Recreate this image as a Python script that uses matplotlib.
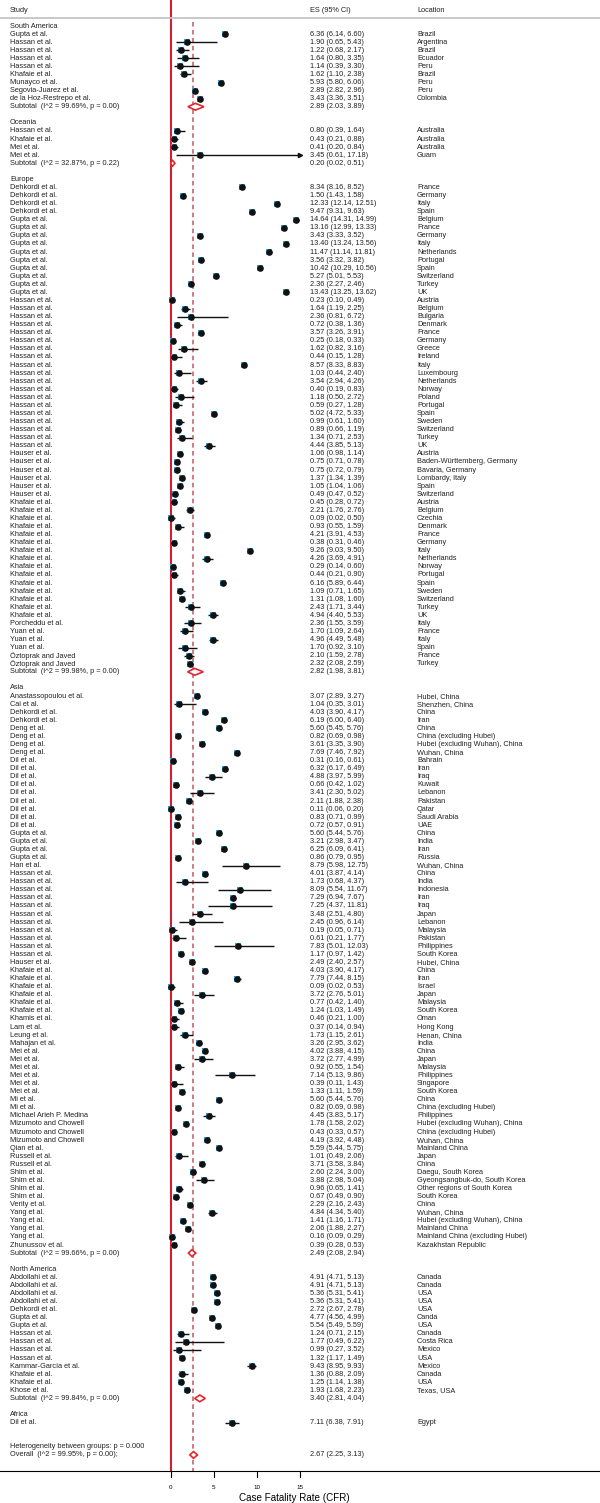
import matplotlib
matplotlib.use("Agg")
import matplotlib.pyplot as plt
from matplotlib.patches import Polygon

plt.rcParams['font.family'] = ['Liberation Sans', 'DejaVu Sans']

# ---------------- data ----------------
sa_study = ["Gupta et al.", "Hassan et al.", "Hassan et al.", "Hassan et al.", "Hassan et al.",
            "Khafaie et al.", "Munayco et al.", "Segovia-Juarez et al.", "de la Hoz-Restrepo et al."]
sa_es = [6.36, 1.90, 1.22, 1.64, 1.14, 1.62, 5.93, 2.89, 3.43]
sa_lo = [6.14, 0.65, 0.68, 0.80, 0.39, 1.10, 5.80, 2.82, 3.36]
sa_hi = [6.60, 5.43, 2.17, 3.35, 3.30, 2.38, 6.06, 2.96, 3.51]
sa_loc = ["Brazil", "Argentina", "Brazil", "Ecuador", "Peru", "Brazil", "Peru", "Peru", "Colombia"]

oc_study = ["Hassan et al.", "Khafaie et al.", "Mei et al.", "Mei et al."]
oc_es = [0.80, 0.43, 0.41, 3.45]
oc_lo = [0.39, 0.21, 0.20, 0.61]
oc_hi = [1.64, 0.88, 0.84, 17.18]
oc_loc = ["Australia", "Australia", "Australia", "Guam"]

eu_study = (["Dehkordi et al."] * 4 + ["Gupta et al."] * 10 + ["Hassan et al."] * 19
            + ["Hauser et al."] * 6 + ["Khafaie et al."] * 15 + ["Porcheddu et al."]
            + ["Yuan et al."] * 3 + ["Öztoprak and Javed"] * 2)
eu_es = [8.34, 1.50, 12.33, 9.47,
         14.64, 13.16, 3.43, 13.40, 11.47, 3.56, 10.42, 5.27, 2.36, 13.43,
         0.23, 1.64, 2.36, 0.72, 3.57, 0.25, 1.62, 0.44, 8.57, 1.03, 3.54, 0.40, 1.18, 0.59,
         5.02, 0.99, 0.89, 1.34, 4.44,
         1.06, 0.75, 0.75, 1.37, 1.05, 0.49,
         0.45, 2.21, 0.09, 0.93, 4.21, 0.38, 9.26, 4.26, 0.29, 0.44, 6.16, 1.09, 1.31, 2.43, 4.94,
         2.36, 1.70, 4.96, 1.70, 2.10, 2.32]
eu_lo = [8.16, 1.43, 12.14, 9.31,
         14.31, 12.99, 3.33, 13.24, 11.14, 3.32, 10.29, 5.01, 2.27, 13.25,
         0.10, 1.19, 0.81, 0.38, 3.26, 0.18, 0.82, 0.15, 8.33, 0.44, 2.94, 0.19, 0.50, 0.27,
         4.72, 0.61, 0.66, 0.71, 3.85,
         0.98, 0.71, 0.72, 1.34, 1.04, 0.47,
         0.28, 1.76, 0.02, 0.55, 3.91, 0.31, 9.03, 3.69, 0.14, 0.21, 5.89, 0.71, 1.08, 1.71, 4.40,
         1.55, 1.09, 4.49, 0.92, 1.59, 2.08]
eu_hi = [8.52, 1.58, 12.51, 9.63,
         14.99, 13.33, 3.52, 13.56, 11.81, 3.82, 10.56, 5.53, 2.46, 13.62,
         0.49, 2.25, 6.72, 1.36, 3.91, 0.33, 3.16, 1.28, 8.83, 2.40, 4.26, 0.83, 2.72, 1.28,
         5.33, 1.60, 1.19, 2.53, 5.13,
         1.14, 0.78, 0.79, 1.39, 1.06, 0.52,
         0.72, 2.76, 0.50, 1.59, 4.53, 0.46, 9.50, 4.91, 0.60, 0.90, 6.44, 1.65, 1.60, 3.44, 5.53,
         3.59, 2.64, 5.48, 3.10, 2.78, 2.59]
eu_loc = ["France", "Germany", "Italy", "Spain",
          "Belgium", "France", "Germany", "Italy", "Netherlands", "Portugal", "Spain",
          "Switzerland", "Turkey", "UK",
          "Austria", "Belgium", "Bulgaria", "Denmark", "France", "Germany", "Greece", "Ireland",
          "Italy", "Luxembourg", "Netherlands", "Norway", "Poland", "Portugal", "Spain",
          "Sweden", "Switzerland", "Turkey", "UK",
          "Austria", "Baden-Württemberg, Germany", "Bavaria, Germany", "Lombardy, Italy",
          "Spain", "Switzerland",
          "Austria", "Belgium", "Czechia", "Denmark", "France", "Germany", "Italy",
          "Netherlands", "Norway", "Portugal", "Spain", "Sweden", "Switzerland", "Turkey", "UK",
          "Italy", "France", "Italy", "Spain", "France", "Turkey"]

as_study = (["Anastassopoulou et al.", "Cai et al."] + ["Dehkordi et al."] * 2
            + ["Deng et al."] * 4 + ["Dil et al."] * 9 + ["Gupta et al."] * 4 + ["Han et al."]
            + ["Hassan et al."] * 11 + ["Hauser et al."] + ["Khafaie et al."] * 6
            + ["Khamis et al.", "Lam et al.", "Leung et al.", "Mahajan et al."]
            + ["Mei et al."] * 6 + ["Mi et al."] * 2 + ["Michael Arieh P. Medina"]
            + ["Mizumoto and Chowell"] * 3 + ["Qian et al."] + ["Russell et al."] * 2
            + ["Shim et al."] * 4 + ["Verity et al."] + ["Yang et al."] * 4 + ["Zhunussov et al."])
as_es = [3.07, 1.04, 4.03, 6.19, 5.60, 0.82, 3.61, 7.69,
         0.31, 6.32, 4.88, 0.66, 3.41, 2.11, 0.11, 0.83, 0.72,
         5.60, 3.21, 6.25, 0.86, 8.79,
         4.01, 1.73, 8.09, 7.29, 7.25, 3.48, 2.45, 0.19, 0.61, 7.83, 1.17,
         2.49, 4.03, 7.79, 0.09, 3.72, 0.77, 1.24,
         0.46, 0.37, 1.73, 3.26,
         4.02, 3.72, 0.92, 7.14, 0.39, 1.33, 5.60, 0.82, 4.45,
         1.78, 0.43, 4.19, 5.59, 1.01, 3.71,
         2.60, 3.88, 0.96, 0.67, 2.29, 4.84, 1.41, 2.06, 0.16, 0.39]
as_lo = [2.89, 0.35, 3.90, 6.00, 5.45, 0.69, 3.35, 7.46,
         0.16, 6.17, 3.97, 0.42, 2.30, 1.88, 0.06, 0.71, 0.57,
         5.44, 2.98, 6.09, 0.79, 5.98,
         3.87, 0.68, 5.54, 6.94, 4.37, 2.51, 0.96, 0.05, 0.21, 5.01, 0.97,
         2.40, 3.90, 7.44, 0.02, 2.76, 0.42, 1.03,
         0.21, 0.14, 1.15, 2.95,
         3.88, 2.77, 0.55, 5.13, 0.11, 1.11, 5.44, 0.69, 3.83,
         1.58, 0.33, 3.92, 5.44, 0.49, 3.58,
         2.24, 2.98, 0.65, 0.49, 2.16, 4.34, 1.16, 1.88, 0.09, 0.28]
as_hi = [3.27, 3.01, 4.17, 6.40, 5.76, 0.98, 3.90, 7.92,
         0.61, 6.49, 5.99, 1.02, 5.02, 2.38, 0.20, 0.99, 0.91,
         5.76, 3.47, 6.41, 0.95, 12.75,
         4.14, 4.37, 11.67, 7.67, 11.81, 4.80, 6.14, 0.71, 1.77, 12.03, 1.42,
         2.57, 4.17, 8.15, 0.53, 5.01, 1.40, 1.49,
         1.00, 0.94, 2.61, 3.62,
         4.15, 4.99, 1.54, 9.86, 1.43, 1.59, 5.76, 0.98, 5.17,
         2.02, 0.57, 4.48, 5.75, 2.06, 3.84,
         3.00, 5.04, 1.41, 0.90, 2.43, 5.40, 1.71, 2.27, 0.29, 0.53]
as_loc = ["Hubei, China", "Shenzhen, China", "China", "Iran", "China", "China (excluding Hubei)",
          "Hubei (excluding Wuhan), China", "Wuhan, China",
          "Bahrain", "Iran", "Iraq", "Kuwait", "Lebanon", "Pakistan", "Qatar", "Saudi Arabia", "UAE",
          "China", "India", "Iran", "Russia", "Wuhan, China",
          "China", "India", "Indonesia", "Iran", "Iraq", "Japan", "Lebanon", "Malaysia",
          "Pakistan", "Philippines", "South Korea",
          "Hubei, China", "China", "Iran", "Israel", "Japan", "Malaysia", "South Korea",
          "Oman", "Hong Kong", "Henan, China", "India",
          "China", "Japan", "Malaysia", "Philippines", "Singapore", "South Korea",
          "China", "China (excluding Hubei)", "Philippines",
          "Hubei (excluding Wuhan), China", "China (excluding Hubei)", "Wuhan, China",
          "Mainland China", "Japan", "China",
          "Daegu, South Korea", "Gyeongsangbuk-do, South Korea", "Other regions of South Korea",
          "South Korea", "China", "Wuhan, China", "Hubei (excluding Wuhan), China",
          "Mainland China", "Mainland China (excluding Hubei)", "Kazakhstan Republic"]

na_study = (["Abdollahi et al."] * 4 + ["Dehkordi et al."] + ["Gupta et al."] * 2
            + ["Hassan et al."] * 4 + ["Kammar-García et al."] + ["Khafaie et al."] * 2
            + ["Khose et al."])
na_es = [4.91, 4.91, 5.36, 5.36, 2.72, 4.77, 5.54, 1.24, 1.77, 0.99, 1.32, 9.43, 1.36, 1.25, 1.93]
na_lo = [4.71, 4.71, 5.31, 5.31, 2.67, 4.56, 5.49, 0.71, 0.49, 0.27, 1.17, 8.95, 0.88, 1.14, 1.68]
na_hi = [5.13, 5.13, 5.41, 5.41, 2.78, 4.99, 5.59, 2.15, 6.22, 3.52, 1.49, 9.93, 2.09, 1.38, 2.23]
na_loc = ["Canada", "Canada", "USA", "USA", "USA", "Canda", "USA", "Canada", "Costa Rica",
          "Mexico", "USA", "Mexico", "Canada", "USA", "Texas, USA"]

af_study = ["Dil et al."]
af_es = [7.11]
af_lo = [6.38]
af_hi = [7.91]
af_loc = ["Egypt"]

regions = ["South America", "Oceania", "Europe", "Asia", "North America", "Africa"]
sub_i2 = [99.69, 32.87, 99.98, 99.66, 99.84]
sub_p = [0.00, 0.22, 0.00, 0.00, 0.00]
sub_es = [2.89, 0.20, 2.82, 2.49, 3.40]
sub_lo = [2.03, 0.02, 1.98, 2.08, 2.81]
sub_hi = [3.89, 0.51, 3.81, 2.94, 4.04]

overall = (2.67, 2.25, 3.13)
overall_i2, overall_p = 99.95, 0.00
het_p = 0.000
xticks = [0, 5, 10, 15]

# ---------------- layout (pixels) ----------------
W, H = 600, 1503
X0_PX, PPU = 170.5, 8.6          # pixel of CFR=0, pixels per unit
ROW0_PX, ROW_PX = 26.0, 8.073    # first row centre, row spacing
FS = 5.3
RED = '#e3262f'
ZERO_RED = '#cc2036'
DASH_RED = '#bf5860'
CYAN = '#36a8dc'


def row_of(py):
    return (py - ROW0_PX) / ROW_PX


fig = plt.figure(figsize=(W / 100, H / 100), dpi=100)
ax = fig.add_axes([0, 0, 1, 1])
ax.set_xlim(-X0_PX / PPU, (W - X0_PX) / PPU)
ax.set_ylim(row_of(H), row_of(0))
ax.axis('off')
tr = ax.get_yaxis_transform()
col_study, col_es, col_loc = 10 / W, 310 / W, 417 / W
xclip = xticks[-1]


def label(r, s, col):
    ax.text(col, r, s, transform=tr, fontsize=FS, va='center', ha='left', color='#222222')


def es_text(e, l, h):
    return f"{e:.2f} ({l:.2f}, {h:.2f})"


def diamond(r, e, l, h):
    d = 0.42
    ax.add_patch(Polygon([(l, r), (e, r - d), (h, r), (e, r + d)], closed=True,
                         facecolor='white', edgecolor=RED, lw=1.2, zorder=4))


# headers
hr = row_of(10)
label(hr, "Study", col_study)
label(hr, "ES (95% CI)", col_es)
label(hr, "Location", col_loc)
ax.axhline(row_of(17.5), color='#c4c4c4', lw=1.3)

groups = [(sa_study, sa_es, sa_lo, sa_hi, sa_loc), (oc_study, oc_es, oc_lo, oc_hi, oc_loc),
          (eu_study, eu_es, eu_lo, eu_hi, eu_loc), (as_study, as_es, as_lo, as_hi, as_loc),
          (na_study, na_es, na_lo, na_hi, na_loc), (af_study, af_es, af_lo, af_hi, af_loc)]

row = 0
for gi, (name, g) in enumerate(zip(regions, groups)):
    label(row, name, col_study)
    row += 1
    for st, e, l, h, lc in zip(*g):
        hh = min(h, xclip)
        ax.plot([l, hh], [row, row], color='#111111', lw=1.0, zorder=2, solid_capstyle='butt')
        if h > xclip:
            ax.plot(xclip, row, marker='>', color='#111111', ms=3, zorder=2)
        ax.plot(e, row, marker='s', color=CYAN, ms=4.2, zorder=3, mew=0)
        ax.plot(e, row, marker='o', color='#111111', ms=4.8, zorder=3, mew=0)
        label(row, st, col_study)
        label(row, es_text(e, l, h), col_es)
        label(row, lc, col_loc)
        row += 1
    if gi < len(sub_es):
        diamond(row, sub_es[gi], sub_lo[gi], sub_hi[gi])
        label(row, f"Subtotal  (I^2 = {sub_i2[gi]:.2f}%, p = {sub_p[gi]:.2f})", col_study)
        label(row, es_text(sub_es[gi], sub_lo[gi], sub_hi[gi]), col_es)
        row += 1
    row += 1
row += 1

label(row, f"Heterogeneity between groups: p = {het_p:.3f}", col_study)
row += 1
diamond(row, *overall)
label(row, f"Overall  (I^2 = {overall_i2:.2f}%, p = {overall_p:.2f});", col_study)
label(row, es_text(*overall), col_es)

# reference lines
axis_r = row_of(1471)
ax.plot([0, 0], [row_of(0), axis_r], color=ZERO_RED, lw=1.5, zorder=1)
ax.plot([overall[0]] * 2, [row_of(22), axis_r], color=DASH_RED, lw=1.1,
        dashes=(3, 2.2), zorder=1)

# x axis
ax.axhline(axis_r, color='black', lw=0.8)
for t in xticks:
    ax.plot([t, t], [axis_r, row_of(1477)], color='black', lw=0.8)
    ax.text(t, row_of(1488), str(t), fontsize=4.5, ha='center', va='center')
ax.text((294.7 - X0_PX) / PPU, row_of(1498), "Case Fatality Rate (CFR)",
        fontsize=7.1, ha='center', va='center')

fig.savefig("out.png", dpi=100)
